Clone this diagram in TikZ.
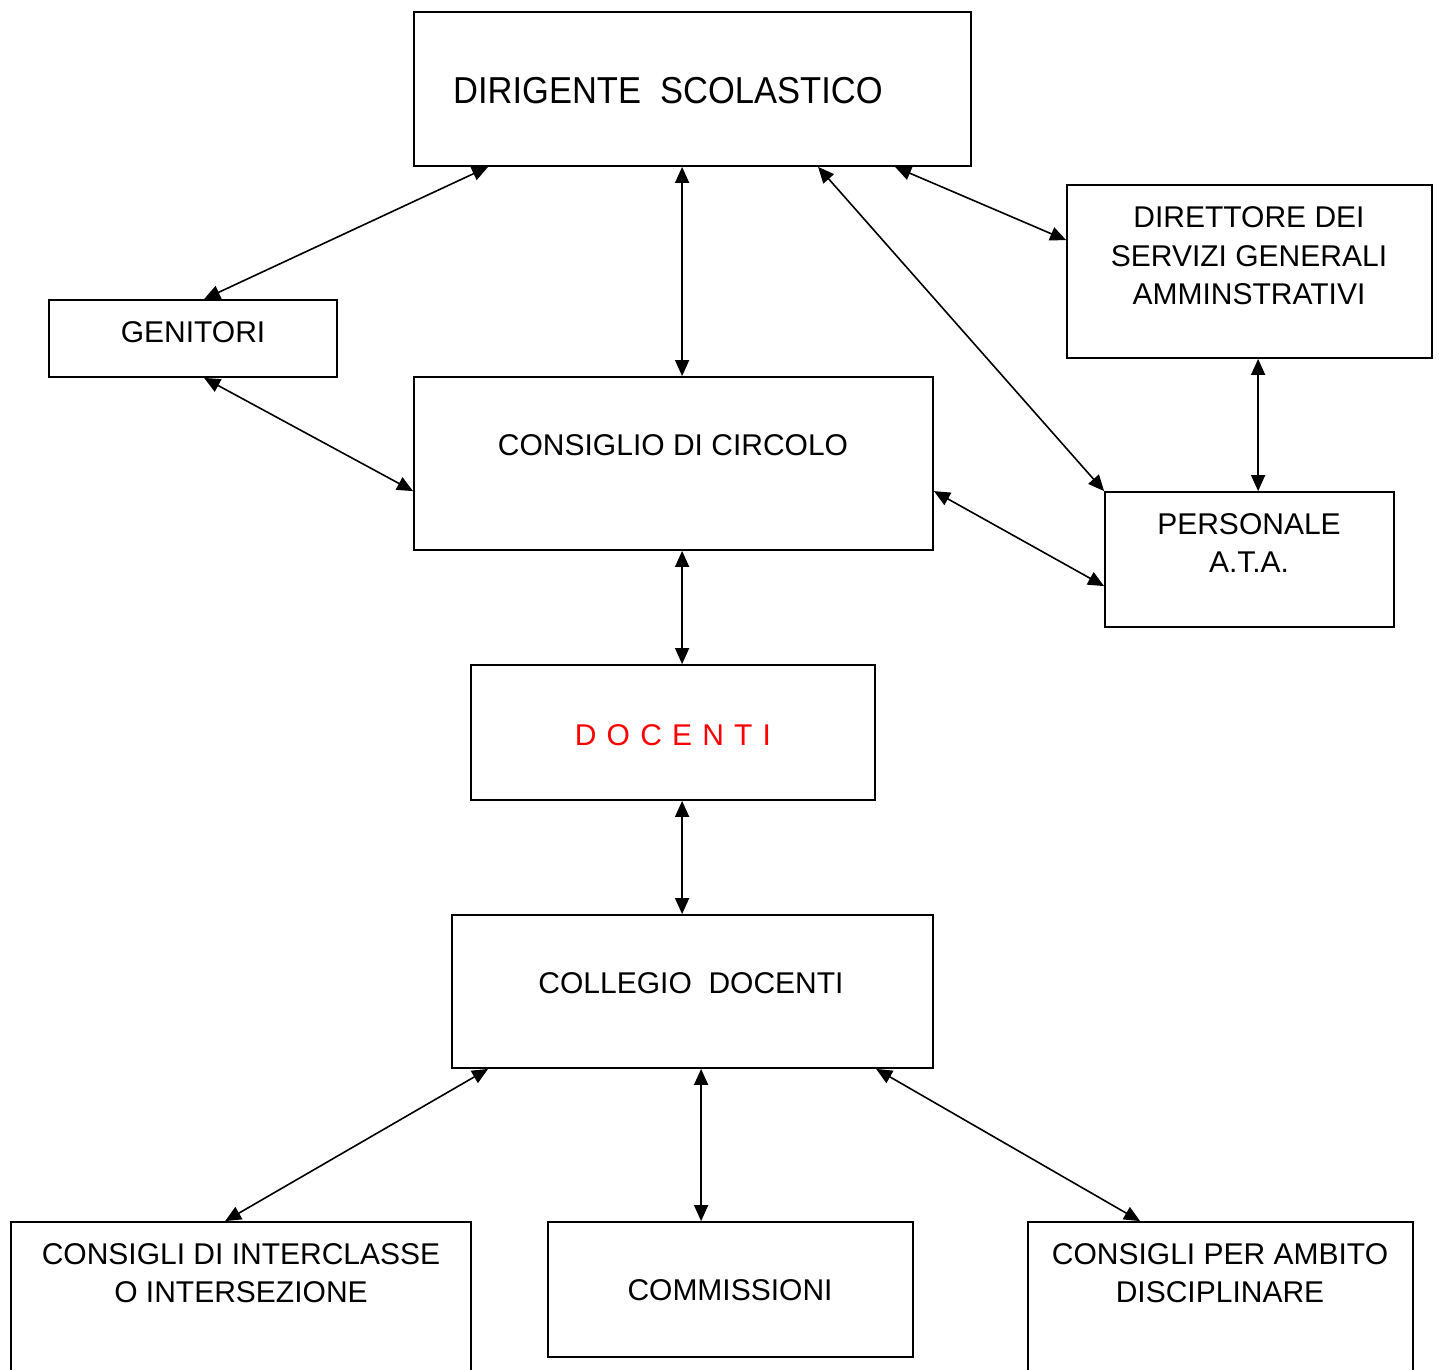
\documentclass[tikz,border=0pt]{standalone}
\usepackage{fontspec}
\setmainfont{Liberation Sans}
\newfontfamily\headfont[FakeStretch=0.92]{Liberation Sans}
\usetikzlibrary{arrows.meta}
\begin{document}
\begin{tikzpicture}[x=1pt,y=-1pt,
  box/.style={draw, line width=1.8pt, inner sep=0pt},
  lbl/.style={inner sep=0pt, align=center, anchor=north, font=\fontsize{30}{38.5}\selectfont},
  link/.style={line width=1.6pt, {Triangle[length=16pt,width=14pt]}-{Triangle[length=16pt,width=14pt]}}]
\path[use as bounding box] (0,0) rectangle (1439,1369);
\clip (0,0) rectangle (1439,1369);

% boxes
\node[box, minimum width=557pt, minimum height=154pt] (dir) at (692.5,89) {};
\node[box, minimum width=365pt, minimum height=173pt] (dsga) at (1249.5,271.5) {};
\node[box, minimum width=288pt, minimum height=77pt] (gen) at (193,338.5) {};
\node[box, minimum width=519pt, minimum height=173pt] (cons) at (673.5,463.5) {};
\node[box, minimum width=289pt, minimum height=135pt] (ata) at (1249.5,559.5) {};
\node[box, minimum width=404pt, minimum height=135pt] (doc) at (673,732.5) {};
\node[box, minimum width=481pt, minimum height=153pt] (coll) at (692.5,991.5) {};
\node[box, minimum width=460pt, minimum height=160pt] (inter) at (241,1302) {};
\node[box, minimum width=365pt, minimum height=135pt] (comm) at (730.5,1289.5) {};
\node[box, minimum width=385pt, minimum height=160pt] (amb) at (1220.5,1302) {};

% labels
\node[lbl, anchor=north west, font=\headfont\fontsize{37.5}{45}\selectfont] (dir-t) at (453,77) {DIRIGENTE~~SCOLASTICO};
\node[lbl] (dsga-t) at (1249,206.5) {DIRETTORE DEI\\SERVIZI GENERALI\\AMMINSTRATIVI};
\node[lbl] (gen-t) at (193,321) {GENITORI};
\node[lbl] (cons-t) at (673,434) {CONSIGLIO DI CIRCOLO};
\node[lbl] (ata-t) at (1249,513) {PERSONALE\\A.T.A.};
\node[lbl, text=red] (doc-t) at (673,724) {D\hspace{0.34em}O\hspace{0.34em}C\hspace{0.34em}E\hspace{0.34em}N\hspace{0.34em}T\hspace{0.34em}I};
\node[lbl] (coll-t) at (691,972) {COLLEGIO~~DOCENTI};
\node[lbl] (inter-t) at (241,1243) {CONSIGLI DI INTERCLASSE\\O INTERSEZIONE};
\node[lbl] (comm-t) at (730,1279) {COMMISSIONI};
\node[lbl] (amb-t) at (1220,1243) {CONSIGLI PER AMBITO\\DISCIPLINARE};

% connectors
\draw[link] ([xshift=75pt]dir.south west) -- ([xshift=156pt]gen.north west);
\draw[link] ([xshift=269pt]dir.south west) -- ([xshift=269pt]cons.north west);
\draw[link] ([xshift=405pt]dir.south west) -- (ata.north west);
\draw[link] ([xshift=482pt]dir.south west) -- ([yshift=-56pt]dsga.north west);
\draw[link] ([xshift=156pt]gen.south west) -- ([yshift=-115pt]cons.north west);
\draw[link] ([xshift=192pt]dsga.south west) -- ([xshift=154pt]ata.north west);
\draw[link] ([yshift=-115pt]cons.north east) -- ([yshift=-95pt]ata.north west);
\draw[link] ([xshift=269pt]cons.south west) -- ([xshift=212pt]doc.north west);
\draw[link] ([xshift=212pt]doc.south west) -- ([xshift=231pt]coll.north west);
\draw[link] ([xshift=37pt]coll.south west) -- ([xshift=215pt]inter.north west);
\draw[link] ([xshift=250pt]coll.south west) -- ([xshift=154pt]comm.north west);
\draw[link] ([xshift=425pt]coll.south west) -- ([xshift=113pt]amb.north west);
\end{tikzpicture}
\end{document}
